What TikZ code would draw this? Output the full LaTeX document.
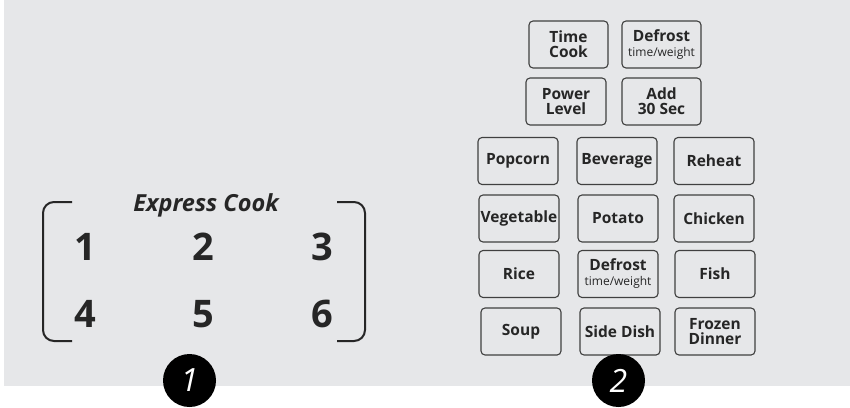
\documentclass[tikz,border=0pt]{standalone}
\usepackage{fontspec}
\setmainfont{Open Sans}
\definecolor{panel}{HTML}{E6E7E9}
\definecolor{ink}{HTML}{262626}
\definecolor{edge}{HTML}{404040}
\begin{document}
\begin{tikzpicture}[x=1pt,y=-1pt,
  btn/.style={draw=edge, line width=1.1pt, rounded corners=4pt, minimum width=80pt, minimum height=47pt,
    inner sep=0pt, align=center, text=ink, font=\bfseries\fontsize{15.5}{15}\selectfont},
  digit/.style={text=ink, font=\bfseries\fontsize{38}{38}\selectfont, inner sep=0pt},
  badge/.style={circle, fill=black, minimum size=53pt, inner sep=0pt, text=white,
    font=\itshape\fontsize{32}{32}\selectfont},
  bracket/.style={draw=ink, line width=2pt, rounded corners=11pt}]
\useasboundingbox (0,0) rectangle (850,407);
\fill[white] (0,0) rectangle (850,407);
\fill[panel] (4,0) rectangle (850,386);

% Express Cook group
\node[text=ink, font=\bfseries\itshape\fontsize{23.5}{23.5}\selectfont, inner sep=0pt] (ec) at (206,205) {Express Cook};
\coordinate (lt) at (72,202);
\coordinate (lb) at (72,341);
\coordinate (rt) at (337,202);
\coordinate (rb) at (337,341);
\draw[bracket] (lt) -- (43,202) -- (43,341) -- (lb);
\draw[bracket] (rt) -- (365,202) -- (365,341) -- (rb);
\node[digit] (d1) at (85,247) {1};
\node[digit] (d2) at (203,247) {2};
\node[digit] (d3) at (322,247) {3};
\node[digit] (d4) at (85,314) {4};
\node[digit] (d5) at (203,314) {5};
\node[digit] (d6) at (322,314) {6};

% Buttons
\node[btn, minimum width=79pt] (timecook) at (568.5,44.5) {Time\\Cook};
\node[btn, minimum width=79pt] (defrostA) at (661.5,44.5) {Defrost\\{\mdseries\fontsize{12}{13}\selectfont time/weight}};
\node[btn] (power) at (566,101.5) {Power\\Level};
\node[btn, minimum width=79pt] (add30) at (661.5,101.5) {Add\\30 Sec};
\node[btn] (popcorn) at (518,161) {Popcorn};
\node[btn] (beverage) at (617,161) {Beverage};
\node[btn] (reheat) at (714,161) {Reheat};
\node[btn] (vegetable) at (519,218.5) {Vegetable};
\node[btn] (potato) at (618,218.5) {Potato};
\node[btn] (chicken) at (714,218.5) {Chicken};
\node[btn] (rice) at (519,274) {Rice};
\node[btn] (defrostB) at (618,274) {Defrost\\{\mdseries\fontsize{12}{13}\selectfont time/weight}};
\node[btn] (fish) at (715,274) {Fish};
\node[btn] (soup) at (521,331.5) {Soup};
\node[btn] (sidedish) at (620,331.5) {Side Dish};
\node[btn] (frozen) at (715,331.5) {Frozen\\Dinner};

% Badges
\node[badge] (b1) at (189.5,380.5) {1};
\node[badge] (b2) at (618.5,380.5) {2};
\end{tikzpicture}
\end{document}
